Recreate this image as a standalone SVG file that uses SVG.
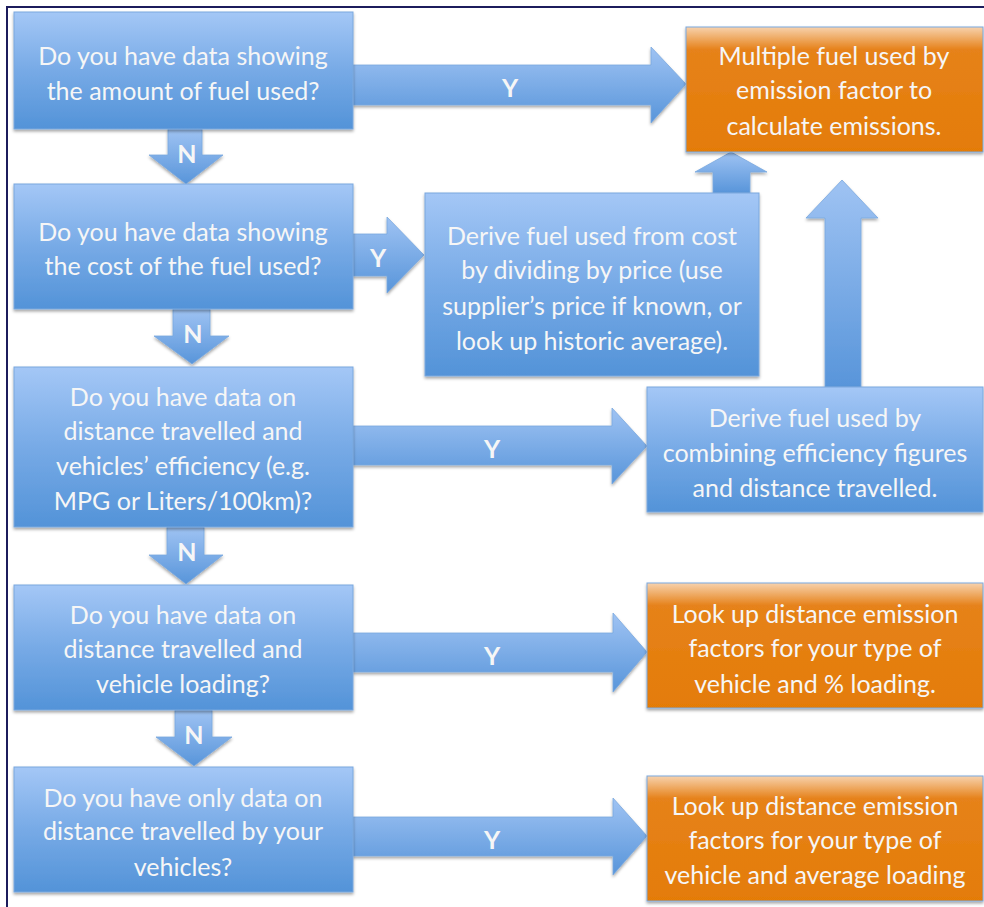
<svg xmlns="http://www.w3.org/2000/svg" width="984" height="907" viewBox="0 0 984 907">
<defs>
<linearGradient id="gBlue" x1="0" y1="0" x2="0" y2="1">
<stop offset="0" stop-color="#a4c7f6"/>
<stop offset="0.5" stop-color="#77aae6"/>
<stop offset="1" stop-color="#5393d8"/>
</linearGradient>
<linearGradient id="gArrow" x1="0" y1="0" x2="0" y2="1">
<stop offset="0" stop-color="#9fc3f3"/>
<stop offset="1" stop-color="#5895da"/>
</linearGradient>
<linearGradient id="gOrange" x1="0" y1="0" x2="0" y2="1">
<stop offset="0" stop-color="#f7d2ad"/>
<stop offset="0.18" stop-color="#e6821a"/>
<stop offset="1" stop-color="#e47c06"/>
</linearGradient>
<filter id="sh" x="-5%" y="-5%" width="110%" height="120%">
<feDropShadow dx="0" dy="2" stdDeviation="1.5" flood-color="#000" flood-opacity="0.35"/>
</filter>
</defs>
<style>
.b{fill:url(#gBlue);stroke:#7aa8de;stroke-width:1;filter:url(#sh)}
.o{fill:url(#gOrange);stroke:#7aa8de;stroke-width:1;filter:url(#sh)}
.a{fill:url(#gArrow);stroke:#7aa8de;stroke-width:0.8;filter:url(#sh)}
.t{font-family:Lato,"Liberation Sans",sans-serif;font-size:25px;fill:#f6f6f6;text-anchor:middle}
.l{font-family:Lato,"Liberation Sans",sans-serif;font-size:25px;font-weight:bold;fill:#f6f6f6;text-anchor:middle}
</style>
<rect x="0" y="0" width="984" height="907" fill="#ffffff"/>
<path d="M7,907 V7 H984" fill="none" stroke="#1c1c5c" stroke-width="2"/>

<g id="connectors">
<polygon class="a" points="353,65 651,65 651,47 686,84 651,123 651,105 353,105"/>
<polygon class="a" points="353,234 387,234 387,217 424,255 387,293 387,276 353,276"/>
<polygon class="a" points="353,426 612,426 612,408 647,446 612,484 612,465 353,465"/>
<polygon class="a" points="353,633 613,633 613,613 647,652 613,692 613,672 353,672"/>
<polygon class="a" points="353,817 613,817 613,798 647,836 613,875 613,856 353,856"/>
<polygon class="a" points="168,129 202,129 202,155 223,155 186,184 149,155 168,155"/>
<polygon class="a" points="173,309 210,309 210,336 229,336 192,364 154,336 173,336"/>
<polygon class="a" points="167,527 204,527 204,555 223,555 186,584 149,555 167,555"/>
<polygon class="a" points="175,710 212,710 212,737 232,737 194,766 156,737 175,737"/>
<polygon class="a" points="713,193 750,193 750,172 767,172 731,152 695,172 713,172"/>
<polygon class="a" points="825,387 861,387 861,218 878,218 842,180 806,218 825,218"/>
<text class="l" x="510" y="97">Y</text>
<text class="l" x="378" y="267">Y</text>
<text class="l" x="492" y="458">Y</text>
<text class="l" x="492" y="665">Y</text>
<text class="l" x="492" y="849">Y</text>
<text class="l" x="187" y="163">N</text>
<text class="l" x="193" y="343">N</text>
<text class="l" x="187" y="561">N</text>
<text class="l" x="194" y="744">N</text>
</g>

<g id="q1">
<rect class="b" x="14" y="12" width="339" height="117"/>
<text class="t" x="183" y="65">Do you have data showing</text>
<text class="t" x="183" y="100">the amount of fuel used?</text>
</g>
<g id="q2">
<rect class="b" x="14" y="184" width="339" height="125"/>
<text class="t" x="183" y="241">Do you have data showing</text>
<text class="t" x="183" y="275">the cost of the fuel used?</text>
</g>
<g id="q3">
<rect class="b" x="14" y="367" width="339" height="160"/>
<text class="t" x="183" y="406">Do you have data on</text>
<text class="t" x="183" y="440">distance travelled and</text>
<text class="t" x="183" y="475">vehicles’ efficiency (e.g.</text>
<text class="t" x="183" y="510">MPG or Liters/100km)?</text>
</g>
<g id="q4">
<rect class="b" x="14" y="585" width="339" height="125"/>
<text class="t" x="183" y="624">Do you have data on</text>
<text class="t" x="183" y="658">distance travelled and</text>
<text class="t" x="183" y="693">vehicle loading?</text>
</g>
<g id="q5">
<rect class="b" x="14" y="767" width="339" height="125"/>
<text class="t" x="183" y="807">Do you have only data on</text>
<text class="t" x="183" y="840">distance travelled by your</text>
<text class="t" x="183" y="876">vehicles?</text>
</g>
<g id="r1">
<rect class="o" x="686" y="27" width="297" height="125"/>
<text class="t" x="834" y="65">Multiple fuel used by</text>
<text class="t" x="834" y="99">emission factor to</text>
<text class="t" x="834" y="135">calculate emissions.</text>
</g>
<g id="d2">
<rect class="b" x="425" y="193" width="334" height="183"/>
<text class="t" x="592" y="245">Derive fuel used from cost</text>
<text class="t" x="592" y="279">by dividing by price (use</text>
<text class="t" x="592" y="315">supplier’s price if known, or</text>
<text class="t" x="592" y="350">look up historic average).</text>
</g>
<g id="d3">
<rect class="b" x="647" y="387" width="336" height="125"/>
<text class="t" x="815" y="427">Derive fuel used by</text>
<text class="t" x="815" y="462">combining efficiency figures</text>
<text class="t" x="815" y="497">and distance travelled.</text>
</g>
<g id="r2">
<rect class="o" x="647" y="583" width="336" height="125"/>
<text class="t" x="815" y="623">Look up distance emission</text>
<text class="t" x="815" y="657">factors for your type of</text>
<text class="t" x="815" y="693">vehicle and % loading.</text>
</g>
<g id="r3">
<rect class="o" x="647" y="776" width="336" height="125"/>
<text class="t" x="815" y="815">Look up distance emission</text>
<text class="t" x="815" y="849">factors for your type of</text>
<text class="t" x="815" y="884">vehicle and average loading</text>
</g>
</svg>
